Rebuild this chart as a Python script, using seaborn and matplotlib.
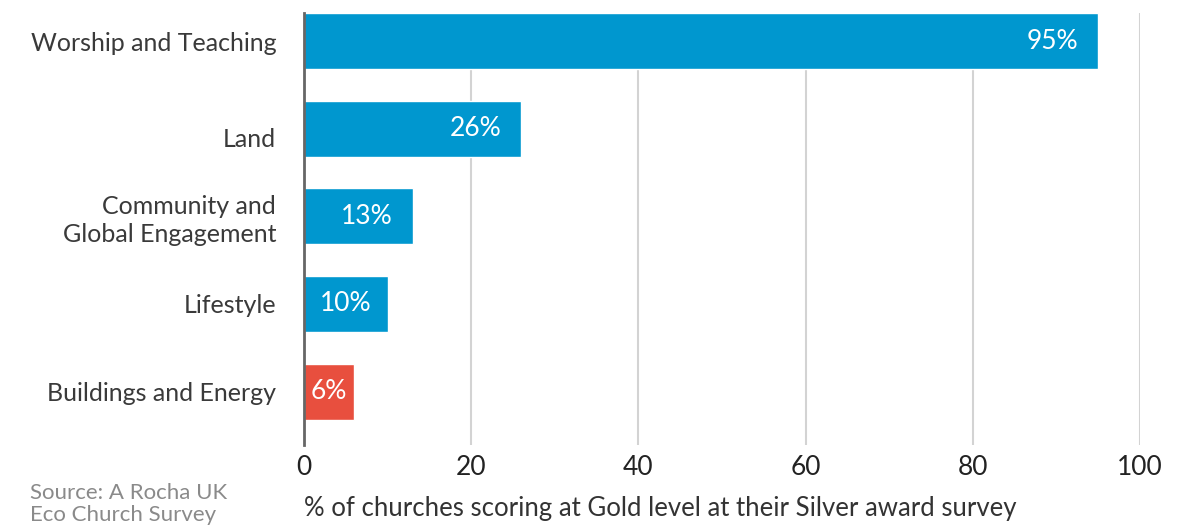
import matplotlib
matplotlib.use("Agg")
import matplotlib.pyplot as plt
import matplotlib.transforms as mtransforms
import seaborn as sns
import pandas as pd

categories = ["Worship and Teaching", "Land", "Community and\nGlobal Engagement",
              "Lifestyle", "Buildings and Energy"]
values = [95, 26, 13, 10, 6]
value_labels = ["95%", "26%", "13%", "10%", "6%"]
bar_colors = ["#0097CF", "#0097CF", "#0097CF", "#0097CF", "#E84F3E"]
x_ticks = [0, 20, 40, 60, 80, 100]
x_label = "% of churches scoring at Gold level at their Silver award survey"
source_text = "Source: A Rocha UK\nEco Church Survey"

sns.set_theme(style="white")
plt.rcParams["font.family"] = ["Lato", "DejaVu Sans"]

df = pd.DataFrame({"category": categories, "value": values})

fig = plt.figure(figsize=(11.98, 5.29), dpi=100)
ax = fig.add_axes([304 / 1198, 1 - 445 / 529, 836 / 1198, 432 / 529])

sns.barplot(data=df, x="value", y="category", hue="category",
            palette=dict(zip(categories, bar_colors)), legend=False,
            width=0.64, saturation=1, ax=ax, zorder=3)

ax.set_xlim(0, 100)
ax.set_ylim(4.61, -0.32)
ax.set_xticks(x_ticks)
ax.set_xticklabels([str(t) for t in x_ticks], fontsize=19, color="#222222")
ax.tick_params(axis="x", length=0, pad=7)
ax.tick_params(axis="y", length=0, pad=20, labelsize=18, labelcolor="#3A3A3A")
for lab in ax.get_yticklabels():
    lab.set_horizontalalignment("right")
    lab.set_linespacing(1.25)
    if lab.get_text() == "Land":
        # the short single-word label sits a little below its bar centre
        lab.set_transform(lab.get_transform() +
                          mtransforms.ScaledTranslation(0, -9 / 100, fig.dpi_scale_trans))

ax.xaxis.grid(True, color="#D3D3D3", linewidth=1.5, zorder=0)
ax.yaxis.grid(False)
for side in ["top", "right", "bottom"]:
    ax.spines[side].set_visible(False)
ax.spines["left"].set_color("#666666")
ax.spines["left"].set_linewidth(2)
ax.spines["left"].set_zorder(5)

ax.set_xlabel(x_label, fontsize=18.5, color="#333333", labelpad=12, loc="left")
ax.set_ylabel("")

# value labels inside the bars
for i, (v, lab) in enumerate(zip(values, value_labels)):
    if v >= 12:
        ax.annotate(lab, xy=(v, i), xytext=(-20, 0), textcoords="offset pixels",
                    ha="right", va="center", color="white", fontsize=19, zorder=6)
    else:
        ax.text(v / 2, i, lab, ha="center", va="center", color="white",
                fontsize=19, zorder=6)

fig.text(30 / 1198, 1 - 504 / 529, source_text, fontsize=16, color="#8A8A8A",
         ha="left", va="center", linespacing=1.1)

fig.savefig("out.png", dpi=100)
